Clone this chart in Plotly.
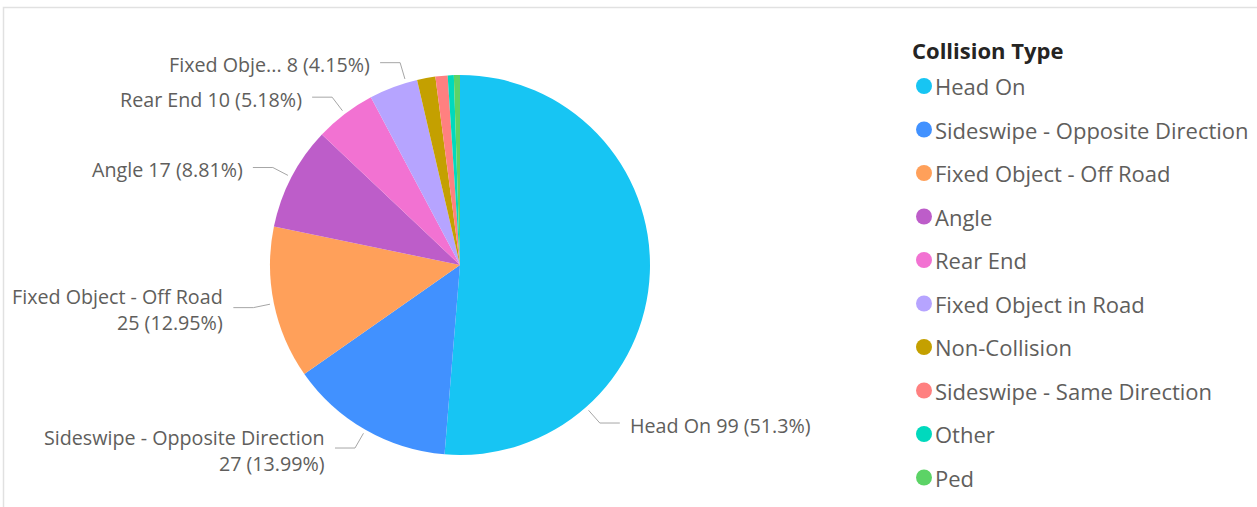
import math
import plotly.graph_objects as go

# ---------------- data ----------------
categories = [
    "Head On", "Sideswipe - Opposite Direction", "Fixed Object - Off Road",
    "Angle", "Rear End", "Fixed Object in Road", "Non-Collision",
    "Sideswipe - Same Direction", "Other", "Ped",
]
counts = [99, 27, 25, 17, 10, 8, 3, 2, 1, 1]
legend_title = "Collision Type"

# ---------------- style ----------------
colors = ["#17C5F3", "#4191FF", "#FFA05A", "#BD5DC9", "#F272D2",
          "#B6A4FF", "#C4A000", "#FF8080", "#00D9BD", "#5CD366"]
# how each slice is labelled: inline, wrapped on two lines, truncated, or none
label_mode = ["inline", "wrap", "wrap", "inline", "inline", "trunc",
              None, None, None, None]
# where along the slice the leader line attaches (0..1 of the slice arc)
anchor_frac = [0.75, 0.5, 0.5, 0.5, 0.5, 0.77, 0.5, 0.5, 0.5, 0.5]

W, H = 1257, 507
CX, CY, R = 460, 265, 190          # pie centre / radius in pixels
LEAD_R0, LEAD_R1 = R + 4, R + 21   # leader line start / elbow radius
LEAD_H, TEXT_GAP = 20, 8
FONT = "Segoe UI, Open Sans, sans-serif"
LABEL_COLOR = "#605E5C"
LINE_COLOR = "#A6A6A6"
LABEL_SIZE = 19.7
LEGEND_SIZE = 22


def px(x):
    return x / W


def py(y):
    return 1 - y / H


total = sum(counts)

fig = go.Figure()
fig.add_trace(go.Pie(
    labels=categories, values=counts, sort=False, direction="clockwise",
    rotation=0, textinfo="none", hoverinfo="label+value+percent",
    marker=dict(colors=colors, line=dict(width=0)),
    domain=dict(x=[px(CX - R), px(CX + R)], y=[py(CY + R), py(CY - R)]),
    showlegend=False,
))

annotations = []
shapes = []

# ---------------- data labels with leader lines ----------------
cum = 0
for cat, val, mode, af in zip(categories, counts, label_mode, anchor_frac):
    if mode is not None:
        theta = 2 * math.pi * (cum + af * val) / total
        sx, sy = math.sin(theta), -math.cos(theta)
        x0, y0 = CX + LEAD_R0 * sx, CY + LEAD_R0 * sy
        x1, y1 = CX + LEAD_R1 * sx, CY + LEAD_R1 * sy
        right = sx >= 0
        x2 = x1 + (LEAD_H if right else -LEAD_H)
        pct = f"{100 * val / total:.2f}".rstrip("0").rstrip(".")
        name = cat
        if mode == "trunc":
            name = cat[:10] + "..."
        if mode == "wrap":
            text = f"{name}<br>{val} ({pct}%)"
        else:
            text = f"{name} {val} ({pct}%)"
        shapes.append(dict(
            type="path", xref="paper", yref="paper",
            path=f"M {px(x0)} {py(y0)} L {px(x1)} {py(y1)} L {px(x2)} {py(y1)}",
            line=dict(color=LINE_COLOR, width=1),
        ))
        tx = x2 + (TEXT_GAP if right else -TEXT_GAP)
        annotations.append(dict(
            x=px(tx), y=py(y1 + 2), xref="paper", yref="paper",
            text=text, showarrow=False,
            xanchor="left" if right else "right", yanchor="middle",
            align="left" if right else "right",
            font=dict(family=FONT, size=LABEL_SIZE, color=LABEL_COLOR),
        ))
    cum += val

# ---------------- legend (drawn manually, circle markers) ----------------
LEG_X, LEG_TITLE_Y, LEG_Y0, LEG_DY = 912, 50, 86, 43.5
annotations.append(dict(
    x=px(LEG_X - 2), y=py(LEG_TITLE_Y), xref="paper", yref="paper",
    text=f"<b>{legend_title}</b>", showarrow=False,
    xanchor="left", yanchor="middle",
    font=dict(family=FONT, size=LEGEND_SIZE, color="#252423"),
))
for i, (cat, col) in enumerate(zip(categories, colors)):
    yc = LEG_Y0 + i * LEG_DY
    mx = LEG_X + 12
    shapes.append(dict(
        type="circle", xref="paper", yref="paper",
        x0=px(mx - 8), x1=px(mx + 8), y0=py(yc + 8), y1=py(yc - 8),
        fillcolor=col, line=dict(width=0),
    ))
    annotations.append(dict(
        x=px(LEG_X + 21), y=py(yc), xref="paper", yref="paper",
        text=cat, showarrow=False, xanchor="left", yanchor="middle",
        font=dict(family=FONT, size=LEGEND_SIZE, color=LABEL_COLOR),
    ))

# ---------------- visual frame ----------------
shapes.append(dict(
    type="rect", xref="paper", yref="paper",
    x0=px(3.5), x1=px(W + 20), y0=py(H + 20), y1=py(7.5),
    line=dict(color="#E1E1E1", width=1.5), fillcolor="rgba(0,0,0,0)",
))

fig.update_layout(
    width=W, height=H, margin=dict(l=0, r=0, t=0, b=0),
    paper_bgcolor="white", plot_bgcolor="white",
    annotations=annotations, shapes=shapes,
    font=dict(family=FONT),
)

fig.write_html("out.html", config={"displayModeBar": False},
               post_script="document.body.style.margin='0';")
